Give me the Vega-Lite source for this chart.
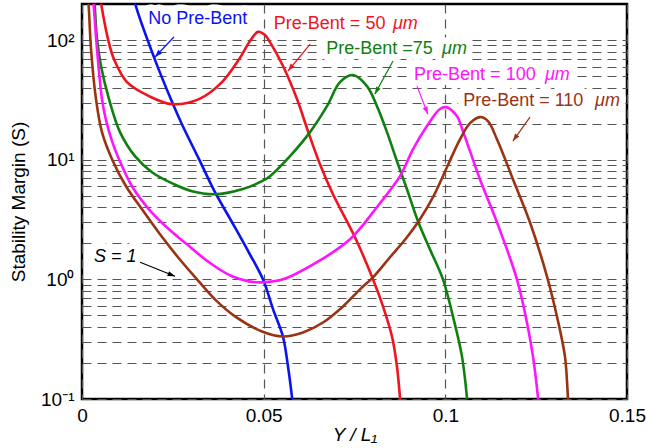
{
  "$schema": "https://vega.github.io/schema/vega-lite/v6.json",
  "width": 545,
  "height": 395,
  "autosize": {"type": "none"},
  "padding": {"left": 82, "top": 4, "right": 19, "bottom": 49},
  "background": "white",
  "config": {"view": {"stroke": "black", "strokeWidth": 2.5}, "font": "Liberation Sans"},
  "datasets": {
    "curves": [
      {"series": "No Pre-Bent", "x": 0.0140, "S": 267},
      {"series": "No Pre-Bent", "x": 0.0146, "S": 204},
      {"series": "No Pre-Bent", "x": 0.0198, "S": 72.0},
      {"series": "No Pre-Bent", "x": 0.0248, "S": 30.3},
      {"series": "No Pre-Bent", "x": 0.0275, "S": 19.8},
      {"series": "No Pre-Bent", "x": 0.0322, "S": 10.1},
      {"series": "No Pre-Bent", "x": 0.0366, "S": 5.35},
      {"series": "No Pre-Bent", "x": 0.0413, "S": 3.00},
      {"series": "No Pre-Bent", "x": 0.0462, "S": 1.62},
      {"series": "No Pre-Bent", "x": 0.0498, "S": 1.00},
      {"series": "No Pre-Bent", "x": 0.0526, "S": 0.561},
      {"series": "No Pre-Bent", "x": 0.0553, "S": 0.333},
      {"series": "No Pre-Bent", "x": 0.0567, "S": 0.187},
      {"series": "No Pre-Bent", "x": 0.0578, "S": 0.103},
      {"series": "No Pre-Bent", "x": 0.0581, "S": 0.082},

      {"series": "50", "x": 0.00468, "S": 267},
      {"series": "50", "x": 0.00523, "S": 204},
      {"series": "50", "x": 0.00716, "S": 102},
      {"series": "50", "x": 0.00881, "S": 69.0},
      {"series": "50", "x": 0.01238, "S": 44.5},
      {"series": "50", "x": 0.01844, "S": 34.0},
      {"series": "50", "x": 0.02477, "S": 29.1},
      {"series": "50", "x": 0.0322, "S": 32.1},
      {"series": "50", "x": 0.03853, "S": 44.5},
      {"series": "50", "x": 0.04321, "S": 69.0},
      {"series": "50", "x": 0.04624, "S": 98.1},
      {"series": "50", "x": 0.04844, "S": 117},
      {"series": "50", "x": 0.05036, "S": 110},
      {"series": "50", "x": 0.05174, "S": 96.0},
      {"series": "50", "x": 0.05532, "S": 60.6},
      {"series": "50", "x": 0.05917, "S": 32.1},
      {"series": "50", "x": 0.0622, "S": 17.3},
      {"series": "50", "x": 0.0655, "S": 9.17},
      {"series": "50", "x": 0.06908, "S": 5.14},
      {"series": "50", "x": 0.07513, "S": 2.25},
      {"series": "50", "x": 0.08009, "S": 1.00},
      {"series": "50", "x": 0.08284, "S": 0.594},
      {"series": "50", "x": 0.08532, "S": 0.333},
      {"series": "50", "x": 0.08669, "S": 0.187},
      {"series": "50", "x": 0.08752, "S": 0.103},
      {"series": "50", "x": 0.0878, "S": 0.082},

      {"series": "75", "x": 0.00303, "S": 267},
      {"series": "75", "x": 0.00344, "S": 204},
      {"series": "75", "x": 0.00413, "S": 102},
      {"series": "75", "x": 0.00523, "S": 60.6},
      {"series": "75", "x": 0.00743, "S": 32.1},
      {"series": "75", "x": 0.01046, "S": 17.0},
      {"series": "75", "x": 0.01459, "S": 10.7},
      {"series": "75", "x": 0.01926, "S": 7.86},
      {"series": "75", "x": 0.02532, "S": 6.24},
      {"series": "75", "x": 0.03027, "S": 5.45},
      {"series": "75", "x": 0.0366, "S": 5.14},
      {"series": "75", "x": 0.04403, "S": 5.66},
      {"series": "75", "x": 0.04954, "S": 6.61},
      {"series": "75", "x": 0.05174, "S": 7.28},
      {"series": "75", "x": 0.05725, "S": 10.7},
      {"series": "75", "x": 0.06275, "S": 17.0},
      {"series": "75", "x": 0.06743, "S": 28.0},
      {"series": "75", "x": 0.0710, "S": 44.5},
      {"series": "75", "x": 0.07458, "S": 51.0},
      {"series": "75", "x": 0.07843, "S": 41.2},
      {"series": "75", "x": 0.08119, "S": 28.0},
      {"series": "75", "x": 0.08394, "S": 17.0},
      {"series": "75", "x": 0.08669, "S": 9.71},
      {"series": "75", "x": 0.08944, "S": 5.66},
      {"series": "75", "x": 0.09247, "S": 3.06},
      {"series": "75", "x": 0.09577, "S": 1.78},
      {"series": "75", "x": 0.09935, "S": 1.00},
      {"series": "75", "x": 0.1021, "S": 0.490},
      {"series": "75", "x": 0.10458, "S": 0.227},
      {"series": "75", "x": 0.10595, "S": 0.103},
      {"series": "75", "x": 0.1062, "S": 0.082},

      {"series": "100", "x": 0.00275, "S": 267},
      {"series": "100", "x": 0.00316, "S": 204},
      {"series": "100", "x": 0.00413, "S": 84.1},
      {"series": "100", "x": 0.0055, "S": 32.1},
      {"series": "100", "x": 0.00661, "S": 21.4},
      {"series": "100", "x": 0.00826, "S": 14.3},
      {"series": "100", "x": 0.01018, "S": 10.1},
      {"series": "100", "x": 0.01376, "S": 6.00},
      {"series": "100", "x": 0.01844, "S": 3.85},
      {"series": "100", "x": 0.02394, "S": 2.62},
      {"series": "100", "x": 0.0289, "S": 1.96},
      {"series": "100", "x": 0.03495, "S": 1.39},
      {"series": "100", "x": 0.04128, "S": 1.06},
      {"series": "100", "x": 0.04596, "S": 0.962},
      {"series": "100", "x": 0.04954, "S": 0.944},
      {"series": "100", "x": 0.05532, "S": 1.00},
      {"series": "100", "x": 0.06468, "S": 1.39},
      {"series": "100", "x": 0.07376, "S": 2.16},
      {"series": "100", "x": 0.08201, "S": 4.33},
      {"series": "100", "x": 0.08752, "S": 7.28},
      {"series": "100", "x": 0.09109, "S": 12.2},
      {"series": "100", "x": 0.09494, "S": 19.1},
      {"series": "100", "x": 0.09852, "S": 26.5},
      {"series": "100", "x": 0.10017, "S": 27.5},
      {"series": "100", "x": 0.1032, "S": 23.1},
      {"series": "100", "x": 0.10485, "S": 17.3},
      {"series": "100", "x": 0.10953, "S": 6.87},
      {"series": "100", "x": 0.11421, "S": 3.00},
      {"series": "100", "x": 0.11971, "S": 1.00},
      {"series": "100", "x": 0.12246, "S": 0.436},
      {"series": "100", "x": 0.12412, "S": 0.227},
      {"series": "100", "x": 0.1255, "S": 0.103},
      {"series": "100", "x": 0.12577, "S": 0.082},

      {"series": "110", "x": 0.00138, "S": 267},
      {"series": "110", "x": 0.00179, "S": 204},
      {"series": "110", "x": 0.00248, "S": 84.1},
      {"series": "110", "x": 0.00385, "S": 32.1},
      {"series": "110", "x": 0.0055, "S": 17.0},
      {"series": "110", "x": 0.00826, "S": 10.1},
      {"series": "110", "x": 0.01211, "S": 6.00},
      {"series": "110", "x": 0.01651, "S": 3.85},
      {"series": "110", "x": 0.02147, "S": 2.38},
      {"series": "110", "x": 0.02642, "S": 1.53},
      {"series": "110", "x": 0.03165, "S": 1.00},
      {"series": "110", "x": 0.0366, "S": 0.680},
      {"series": "110", "x": 0.04211, "S": 0.490},
      {"series": "110", "x": 0.04954, "S": 0.367},
      {"series": "110", "x": 0.05532, "S": 0.333},
      {"series": "110", "x": 0.06082, "S": 0.360},
      {"series": "110", "x": 0.06633, "S": 0.436},
      {"series": "110", "x": 0.07183, "S": 0.594},
      {"series": "110", "x": 0.07651, "S": 0.825},
      {"series": "110", "x": 0.08009, "S": 1.04},
      {"series": "110", "x": 0.08477, "S": 1.53},
      {"series": "110", "x": 0.08944, "S": 2.25},
      {"series": "110", "x": 0.09302, "S": 3.18},
      {"series": "110", "x": 0.0966, "S": 4.86},
      {"series": "110", "x": 0.10045, "S": 8.65},
      {"series": "110", "x": 0.10403, "S": 14.8},
      {"series": "110", "x": 0.1068, "S": 20.2},
      {"series": "110", "x": 0.10953, "S": 22.7},
      {"series": "110", "x": 0.11173, "S": 21.0},
      {"series": "110", "x": 0.11421, "S": 14.8},
      {"series": "110", "x": 0.11861, "S": 6.87},
      {"series": "110", "x": 0.12329, "S": 3.00},
      {"series": "110", "x": 0.12797, "S": 1.06},
      {"series": "110", "x": 0.13072, "S": 0.490},
      {"series": "110", "x": 0.13292, "S": 0.227},
      {"series": "110", "x": 0.13375, "S": 0.103},
      {"series": "110", "x": 0.1340, "S": 0.082}
    ],
    "labels": [
      {"series": "No Pre-Bent", "label": "No Pre-Bent", "x": 0.0182, "S": 150},
      {"series": "50", "label": "Pre-Bent = 50", "x": 0.0528, "S": 136},
      {"series": "75", "label": "Pre-Bent =75", "x": 0.0672, "S": 84},
      {"series": "100", "label": "Pre-Bent = 100", "x": 0.0914, "S": 51},
      {"series": "110", "label": "Pre-Bent = 110", "x": 0.1049, "S": 30.9}
    ],
    "italics": [
      {"series": "50", "label": "μm", "x": 0.0856, "S": 136},
      {"series": "75", "label": "μm", "x": 0.0991, "S": 84},
      {"series": "100", "label": "μm", "x": 0.1274, "S": 51},
      {"series": "110", "label": "μm", "x": 0.1412, "S": 30.9},
      {"series": "S1", "label": "S = 1", "x": 0.0033, "S": 1.53}
    ],
    "arrows": [
      {"series": "No Pre-Bent", "x": 0.0253, "S": 106, "x2": 0.0201, "S2": 72.1},
      {"series": "50", "x": 0.0628, "S": 92.6, "x2": 0.0567, "S2": 55.1},
      {"series": "75", "x": 0.0856, "S": 66.7, "x2": 0.0806, "S2": 35.3},
      {"series": "100", "x": 0.0922, "S": 41.2, "x2": 0.0952, "S2": 24.0},
      {"series": "110", "x": 0.1233, "S": 22.7, "x2": 0.1186, "S2": 14.3},
      {"series": "S1", "x": 0.0160, "S": 1.39, "x2": 0.0256, "S2": 1.06}
    ]
  },
  "layer": [
    {
      "data": {"name": "labels"},
      "mark": {"type": "text", "align": "left", "baseline": "middle", "fontSize": 18, "font": "Liberation Sans", "fill": "white", "stroke": "white", "strokeWidth": 13, "strokeJoin": "round", "opacity": 1},
      "encoding": {
        "x": {"field": "x", "type": "quantitative"},
        "y": {"field": "S", "type": "quantitative"},
        "text": {"field": "label"}
      }
    },
    {
      "data": {"name": "italics"},
      "mark": {"type": "text", "align": "left", "baseline": "middle", "fontSize": 18, "font": "Liberation Sans", "fontStyle": "italic", "fill": "white", "stroke": "white", "strokeWidth": 13, "strokeJoin": "round", "opacity": 1},
      "encoding": {
        "x": {"field": "x", "type": "quantitative"},
        "y": {"field": "S", "type": "quantitative"},
        "text": {"field": "label"}
      }
    },
    {
      "mark": {"type": "rule", "color": "black", "strokeWidth": 1.4},
      "encoding": {"y": {"datum": 1}}
    },
    {
      "data": {"name": "curves"},
      "mark": {"type": "line", "strokeWidth": 2.6, "interpolate": "catmull-rom", "clip": true},
      "encoding": {
        "x": {
          "field": "x", "type": "quantitative",
          "scale": {"domain": [0, 0.15], "nice": false, "zero": false},
          "axis": {
            "title": "Y / L₁", "values": [0, 0.05, 0.1, 0.15],
            "labelExpr": "format(datum.value, '~g')",
            "grid": true, "gridDash": [9, 6], "gridColor": "#555555", "gridWidth": 1.2,
            "ticks": false, "domain": false, "labelFlush": false,
            "labelFontSize": 19, "labelColor": "black", "labelPadding": 7,
            "titleFontSize": 19, "titleFontStyle": "italic", "titleFontWeight": "normal",
            "titleColor": "black", "titlePadding": 0
          }
        },
        "y": {
          "field": "S", "type": "quantitative",
          "scale": {"type": "log", "domain": [0.1, 200], "nice": false},
          "axis": {
            "title": "Stability Margin (S)",
            "values": [0.1, 0.2, 0.3, 0.4, 0.5, 0.6, 0.7, 0.8, 0.9, 1, 2, 3, 4, 5, 6, 7, 8, 9, 10, 20, 30, 40, 50, 60, 70, 80, 90, 100],
            "labelExpr": "datum.value == 100 ? '10²' : datum.value == 10 ? '10¹' : datum.value == 1 ? '10⁰' : datum.value == 0.1 ? '10⁻¹' : ''",
            "labelOverlap": false,
            "grid": true, "gridDash": [9, 6], "gridColor": "#555555", "gridWidth": 1.2,
            "ticks": false, "domain": false,
            "labelFontSize": 19, "labelColor": "black", "labelPadding": 8,
            "titleFontSize": 19, "titleFontWeight": "normal", "titleColor": "black", "titlePadding": 12
          }
        },
        "color": {
          "field": "series", "type": "nominal",
          "scale": {"domain": ["No Pre-Bent", "50", "75", "100", "110", "S1"], "range": ["#0a14f0", "#f0141e", "#0f800f", "#ff14ff", "#993311", "#000000"]},
          "legend": null
        }
      }
    },
    {
      "data": {"name": "arrows"},
      "mark": {"type": "rule", "strokeWidth": 1.2},
      "encoding": {
        "x": {"field": "x", "type": "quantitative"},
        "y": {"field": "S", "type": "quantitative"},
        "x2": {"field": "x2"},
        "y2": {"field": "S2"},
        "color": {"field": "series", "type": "nominal", "legend": null}
      }
    },
    {
      "data": {"name": "arrows"},
      "transform": [{"filter": "datum.series == 'No Pre-Bent'"}],
      "mark": {"type": "point", "shape": "M0,0L-0.35,1L0.35,1Z", "filled": true, "opacity": 1, "size": 220, "angle": 223.5},
      "encoding": {"x": {"field": "x2", "type": "quantitative"}, "y": {"field": "S2", "type": "quantitative"}, "color": {"field": "series", "type": "nominal", "legend": null}}
    },
    {
      "data": {"name": "arrows"},
      "transform": [{"filter": "datum.series == '50'"}],
      "mark": {"type": "point", "shape": "M0,0L-0.35,1L0.35,1Z", "filled": true, "opacity": 1, "size": 220, "angle": 219},
      "encoding": {"x": {"field": "x2", "type": "quantitative"}, "y": {"field": "S2", "type": "quantitative"}, "color": {"field": "series", "type": "nominal", "legend": null}}
    },
    {
      "data": {"name": "arrows"},
      "transform": [{"filter": "datum.series == '75'"}],
      "mark": {"type": "point", "shape": "M0,0L-0.35,1L0.35,1Z", "filled": true, "opacity": 1, "size": 220, "angle": 208.6},
      "encoding": {"x": {"field": "x2", "type": "quantitative"}, "y": {"field": "S2", "type": "quantitative"}, "color": {"field": "series", "type": "nominal", "legend": null}}
    },
    {
      "data": {"name": "arrows"},
      "transform": [{"filter": "datum.series == '100'"}],
      "mark": {"type": "point", "shape": "M0,0L-0.35,1L0.35,1Z", "filled": true, "opacity": 1, "size": 220, "angle": 158.5},
      "encoding": {"x": {"field": "x2", "type": "quantitative"}, "y": {"field": "S2", "type": "quantitative"}, "color": {"field": "series", "type": "nominal", "legend": null}}
    },
    {
      "data": {"name": "arrows"},
      "transform": [{"filter": "datum.series == '110'"}],
      "mark": {"type": "point", "shape": "M0,0L-0.35,1L0.35,1Z", "filled": true, "opacity": 1, "size": 220, "angle": 215},
      "encoding": {"x": {"field": "x2", "type": "quantitative"}, "y": {"field": "S2", "type": "quantitative"}, "color": {"field": "series", "type": "nominal", "legend": null}}
    },
    {
      "data": {"name": "arrows"},
      "transform": [{"filter": "datum.series == 'S1'"}],
      "mark": {"type": "point", "shape": "M0,0L-0.35,1L0.35,1Z", "filled": true, "opacity": 1, "size": 220, "angle": 111.8},
      "encoding": {"x": {"field": "x2", "type": "quantitative"}, "y": {"field": "S2", "type": "quantitative"}, "color": {"field": "series", "type": "nominal", "legend": null}}
    },
    {
      "data": {"name": "labels"},
      "mark": {"type": "text", "align": "left", "baseline": "middle", "fontSize": 18, "font": "Liberation Sans"},
      "encoding": {
        "x": {"field": "x", "type": "quantitative"},
        "y": {"field": "S", "type": "quantitative"},
        "text": {"field": "label"},
        "color": {"field": "series", "type": "nominal", "legend": null}
      }
    },
    {
      "data": {"name": "italics"},
      "mark": {"type": "text", "align": "left", "baseline": "middle", "fontSize": 18, "font": "Liberation Sans", "fontStyle": "italic"},
      "encoding": {
        "x": {"field": "x", "type": "quantitative"},
        "y": {"field": "S", "type": "quantitative"},
        "text": {"field": "label"},
        "color": {"field": "series", "type": "nominal", "legend": null}
      }
    }
  ]
}
